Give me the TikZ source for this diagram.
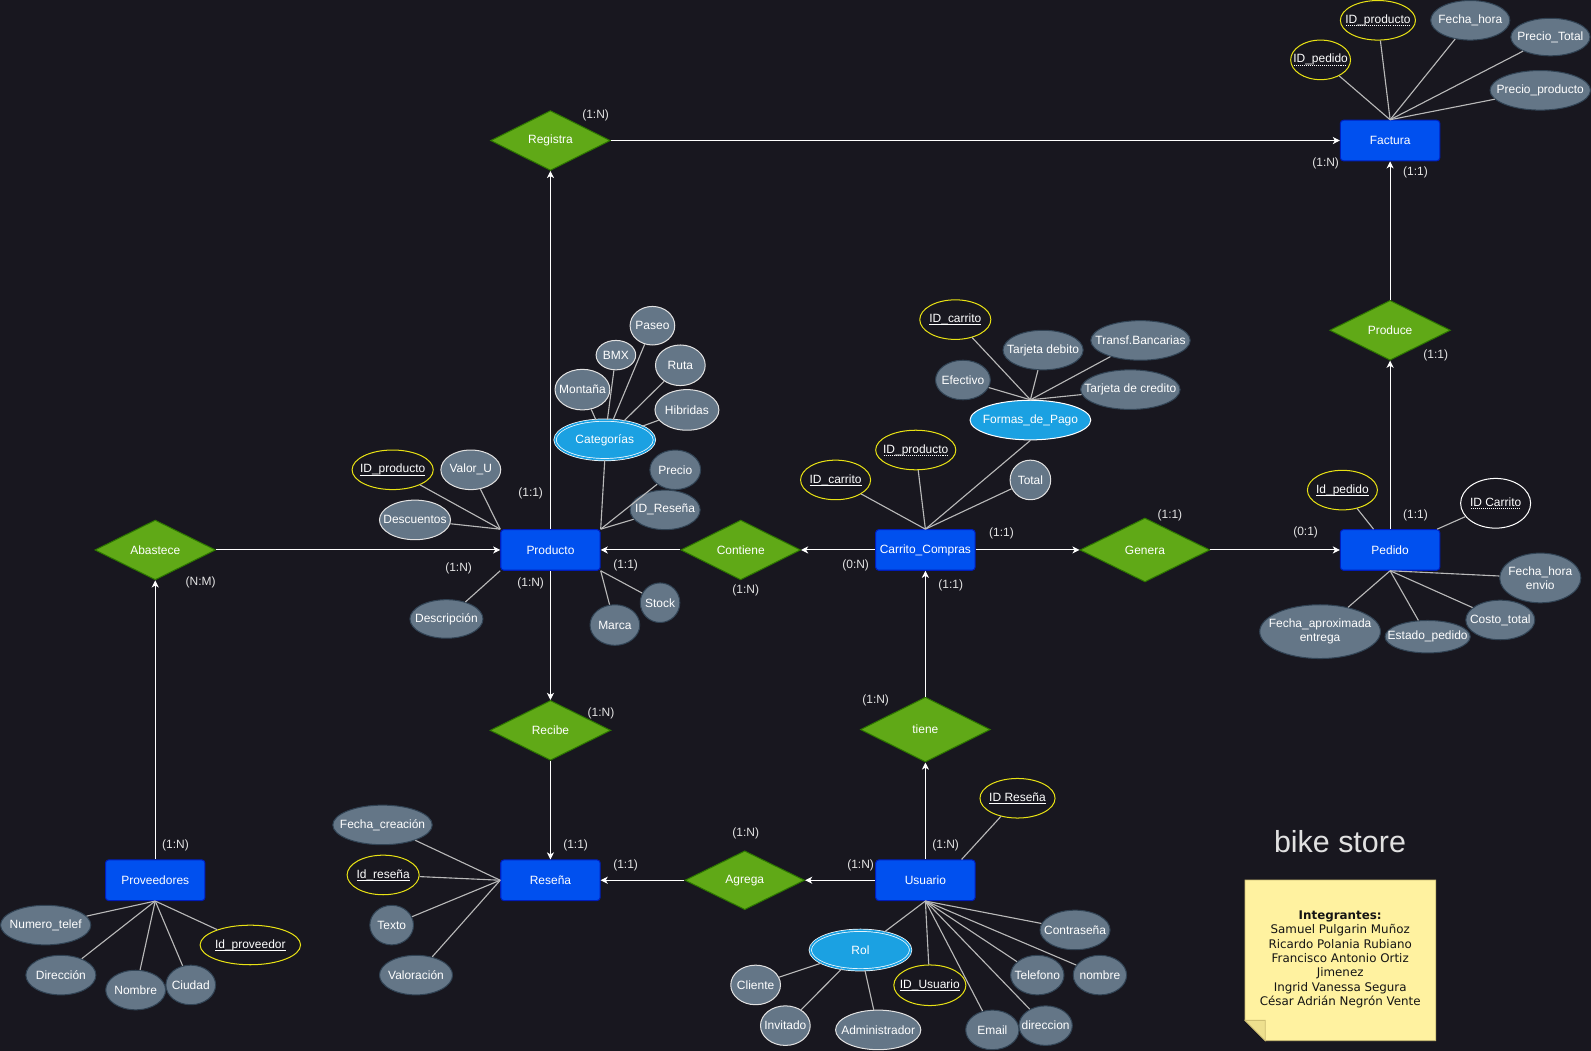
\documentclass[tikz,border=0pt]{standalone}
\usepackage{fontspec}
\setmainfont{Liberation Sans}
\newfontfamily\notefont{DejaVu Sans}
\usetikzlibrary{shapes.geometric,arrows.meta,calc}

\definecolor{bg}{RGB}{24,23,31}
\definecolor{entfill}{HTML}{0050EF}
\definecolor{entdraw}{HTML}{001DBC}
\definecolor{relfill}{HTML}{60A917}
\definecolor{reldraw}{HTML}{2D7600}
\definecolor{attfill}{HTML}{647687}
\definecolor{attdark}{HTML}{314354}
\definecolor{attlight}{RGB}{225,225,225}
\definecolor{multifill}{HTML}{1BA1E2}
\definecolor{keyyel}{RGB}{232,226,20}
\definecolor{lnk}{RGB}{185,185,185}
\definecolor{cardc}{RGB}{228,228,228}
\definecolor{titlec}{RGB}{225,225,225}
\definecolor{notefill}{RGB}{255,242,160}
\definecolor{notefold}{RGB}{238,224,142}
\definecolor{notedraw}{RGB}{205,190,115}
\definecolor{notetextc}{RGB}{20,20,20}

% solid and dotted underlines
\newcommand\keyul[1]{\setbox0\hbox{#1}\leavevmode\rlap{\vrule width\wd0 height -1.7pt depth 2.5pt}\box0}
\newcommand\fkul[1]{\setbox0\hbox{#1}\leavevmode\rlap{\hbox to\wd0{\leaders\hbox to 2pt{\hss\vrule width 1pt height -1.7pt depth 2.5pt\hss}\hfill}}\box0}

\newcommand\attrnode[7]{%
  \node[#6, minimum width=#4pt, minimum height=#5pt] (#1) at (#2,#3) {};
  \node[txt] (#1-t) at (#1.center) {#7};}

\begin{document}
\begin{tikzpicture}[x=1pt,y=-1pt,
  every node/.append style={font=\fontsize{11.8}{13.6}\selectfont},
  txt/.style={inner sep=0pt, text=white, align=center},
  ent/.style={rectangle, rounded corners=3pt, fill=entfill, draw=entdraw, line width=1pt,
    minimum width=98pt, minimum height=40pt, inner sep=0pt, text=white},
  rel/.style={diamond, fill=relfill, draw=reldraw, line width=1pt, inner sep=0pt, text=white},
  attW/.style={ellipse, fill=attfill, draw=attlight, line width=1pt, inner sep=0pt},
  attD/.style={ellipse, fill=attfill, draw=attdark, line width=1pt, inner sep=0pt},
  key/.style={ellipse, draw=keyyel, line width=1pt, inner sep=0pt},
  wkey/.style={ellipse, draw=white, line width=1pt, inner sep=0pt},
  multi/.style={ellipse, fill=multifill, draw=white, line width=1pt, inner sep=0pt},
  multid/.style={ellipse, fill=multifill, draw=white, double=multifill, double distance=1.6pt, line width=0.7pt, inner sep=0pt},
  arr/.style={draw=white, line width=1pt, -{Stealth[length=7pt,width=7pt,inset=2pt]}},
  lk/.style={draw=lnk, line width=1.1pt},
  card/.style={text=cardc, inner sep=0pt},
]
\useasboundingbox (0,0) rectangle (1568,1035.8);
\fill[bg] (0,0) rectangle (1568,1035.8);

% ---------- entities ----------
\node[ent] (fac) at (1370,138.5) {Factura};
\node[ent] (ped) at (1370,542) {Pedido};
\node[ent] (car) at (912,542) {Carrito\_Compras};
\node[ent] (pro) at (542.5,542) {Producto};
\node[ent] (prv) at (153,867.5) {Proveedores};
\node[ent] (res) at (542.5,867.5) {Reseña};
\node[ent] (usu) at (912,867.5) {Usuario};

% ---------- relationships ----------
\node[rel, minimum width=118pt, minimum height=59pt] (reg) at (542.5,138.5) {Registra};
\node[rel, minimum width=119pt, minimum height=59pt] (prd) at (1370,325.5) {Produce};
\node[rel, minimum width=128pt, minimum height=63pt] (gen) at (1128.4,542) {Genera};
\node[rel, minimum width=118pt, minimum height=59pt] (con) at (730,542) {Contiene};
\node[rel, minimum width=119pt, minimum height=59pt] (aba) at (153,542) {Abastece};
\node[rel, minimum width=119pt, minimum height=59pt] (rec) at (542.5,719.8) {Recibe};
\node[rel, minimum width=128pt, minimum height=64pt] (tie) at (912,719) {tiene};
\node[rel, minimum width=118pt, minimum height=58pt] (agr) at (734,867.5) {Agrega};

% ---------- Factura attributes ----------
\attrnode{facidped}{1301.5}{59}{59}{39}{key}{\fkul{ID\_pedido}}
\attrnode{facidprod}{1358}{20}{74}{39}{key}{\fkul{ID\_producto}}
\attrnode{facfh}{1449}{20}{78}{39}{attD}{Fecha\_hora}
\attrnode{facpt}{1528}{36.5}{78}{37}{attD}{Precio\_Total}
\attrnode{facpp}{1518}{89}{99}{39}{attD}{Precio\_producto}

% ---------- Pedido attributes ----------
\attrnode{pedid}{1323}{483}{69}{39}{key}{\keyul{Id\_pedido}}
\attrnode{pedcar}{1474}{496}{69}{49}{wkey}{\fkul{ID Carrito}}
\attrnode{pedfhe}{1518}{569.6}{80}{49}{attD}{Fecha\_hora\\envio}
\attrnode{pedct}{1478.6}{611}{68}{39}{attD}{Costo\_total}
\attrnode{pedep}{1407}{627.5}{84}{32}{attD}{Estado\_pedido}
\attrnode{pedfa}{1301}{622.5}{119}{53}{attD}{Fecha\_aproximada\\entrega}

% ---------- Carrito attributes ----------
\attrnode{carid}{823.5}{473}{69}{39}{key}{\keyul{ID\_carrito}}
\attrnode{carprod}{902.5}{443.5}{79}{39}{key}{\fkul{ID\_producto}}
\attrnode{cartot}{1015.5}{473}{40}{39}{attW}{Total}
\attrnode{fp}{1015.5}{414}{119}{39}{multi}{Formas\_de\_Pago}
\attrnode{fpid}{941.5}{315}{70}{39}{key}{\keyul{ID\_carrito}}
\attrnode{fptd}{1028}{345}{79}{39}{attD}{Tarjeta debito}
\attrnode{fptb}{1124}{335.5}{98}{39}{attD}{Transf.Bancarias}
\attrnode{fpef}{949}{374.5}{54}{39}{attD}{Efectivo}
\attrnode{fptc}{1114}{384}{98}{39}{attD}{Tarjeta de credito}

% ---------- Producto attributes ----------
\attrnode{proid}{387}{463}{80}{39}{key}{\keyul{ID\_producto}}
\attrnode{provu}{464}{463}{59}{39}{attW}{Valor\_U}
\attrnode{prode}{409}{512.4}{70}{39}{attW}{Descuentos}
\attrnode{prods}{440}{610}{72}{38}{attD}{Descripción}
\attrnode{prost}{650.5}{594}{39}{39}{attD}{Stock}
\attrnode{proma}{606}{616}{49}{40}{attD}{Marca}
\attrnode{propr}{665.5}{463}{50}{39}{attD}{Precio}
\attrnode{proir}{655.5}{502.5}{69}{39}{attD}{ID\_Reseña}
\attrnode{cat}{596}{433.5}{98}{39}{multid}{Categorías}
\attrnode{catpa}{643}{321}{44}{38}{attW}{Paseo}
\attrnode{catbmx}{607}{350}{39}{29}{attW}{BMX}
\attrnode{catru}{670.5}{360}{49}{40}{attW}{Ruta}
\attrnode{catmo}{574}{384}{54}{40}{attW}{Montaña}
\attrnode{cathi}{677}{404}{63}{40}{attW}{Hibridas}

% ---------- Proveedores attributes ----------
\attrnode{prvnt}{45}{911.7}{89}{39}{attD}{Numero\_telef}
\attrnode{prvdi}{60}{961}{69}{39}{attD}{Dirección}
\attrnode{prvno}{133.7}{975.7}{59}{39}{attD}{Nombre}
\attrnode{prvci}{188}{970.7}{49}{39}{attD}{Ciudad}
\attrnode{prvid}{246.7}{931.3}{99}{39}{key}{\keyul{Id\_proveedor}}

% ---------- Reseña attributes ----------
\attrnode{resfc}{377}{813}{98}{39}{attD}{Fecha\_creación}
\attrnode{resid}{377.6}{862.3}{71}{39}{key}{\keyul{Id\_reseña}}
\attrnode{restx}{386}{911.7}{43}{39}{attD}{Texto}
\attrnode{resva}{410}{961}{72}{39}{attD}{Valoración}

% ---------- Usuario attributes ----------
\attrnode{usuir}{1002.8}{786.7}{74}{39}{key}{\keyul{ID Reseña}}
\attrnode{rol}{848}{936.3}{99}{39}{multid}{Rol}
\attrnode{rolcl}{744.7}{970.7}{49}{39}{attW}{Cliente}
\attrnode{rolin}{774}{1010.8}{49}{39}{attW}{Invitado}
\attrnode{rolad}{865.5}{1015}{84}{39}{attW}{Administrador}
\attrnode{usuid}{916.4}{971}{71}{40}{key}{\keyul{ID\_Usuario}}
\attrnode{usuem}{978}{1015}{52.5}{39}{attD}{Email}
\attrnode{usudr}{1030.5}{1010.8}{52.6}{39}{attD}{direccion}
\attrnode{usute}{1022.3}{961}{52.6}{39}{attD}{Telefono}
\attrnode{usuno}{1084}{961}{52.6}{39}{attD}{nombre}
\attrnode{usuco}{1059.5}{916.5}{69}{39}{attD}{Contraseña}

% ---------- attribute links ----------
\foreach \a in {facidped,facidprod,facfh,facpt,facpp} \draw[lk] (\a) -- (fac.north);
\draw[lk] (pedid) -- (ped);
\draw[lk] (pedcar) -- (ped);
\foreach \a in {pedfhe,pedct,pedep,pedfa} \draw[lk] (\a) -- (ped.south);
\foreach \a in {carid,carprod,cartot} \draw[lk] (\a) -- (car.north);
\draw[lk] (fp.south) -- (car.north);
\foreach \a in {fpid,fptd,fptb,fpef,fptc} \draw[lk] (\a) -- (fp.north);
\foreach \a in {proid,provu,prode} \draw[lk] (\a) -- (pro.north west);
\draw[lk] (prods) -- (pro.south west);
\foreach \a in {propr,proir} \draw[lk] (\a) -- (pro.north east);
\draw[lk] (cat.south) -- (pro.north east);
\foreach \a in {prost,proma} \draw[lk] (\a) -- (pro.south east);
\foreach \a in {catpa,catbmx,catru,catmo,cathi} \draw[lk] (\a) -- (cat);
\foreach \a in {prvnt,prvdi,prvno,prvci,prvid} \draw[lk] (\a) -- (prv.south);
\foreach \a in {resfc,resid,restx,resva} \draw[lk] (\a) -- (res.west);
\draw[lk] (usuir) -- ($(usu.north)+(35.7,0)$);
\foreach \a in {rol,usuid,usuem,usudr,usute,usuno,usuco} \draw[lk] (\a) -- (usu.south);
\foreach \a in {rolcl,rolin,rolad} \draw[lk] (\a) -- (rol);

% ---------- relationship connectors ----------
\draw[arr] (reg) -- (fac);
\draw[arr] (pro) -- (reg);
\draw[arr] (prd) -- (fac);
\draw[arr] (ped) -- (prd);
\draw[arr] (gen) -- (ped);
\draw[arr] (car) -- (gen);
\draw[arr] (car) -- (con);
\draw[arr] (con) -- (pro);
\draw[arr] (aba) -- (pro);
\draw[arr] (prv) -- (aba);
\draw[arr] (pro) -- (rec);
\draw[arr] (rec) -- (res);
\draw[arr] (usu) -- (agr);
\draw[arr] (agr) -- (res);
\draw[arr] (usu) -- (tie);
\draw[arr] (tie) -- (car);

% ---------- cardinalities ----------
\node[card] (c1) at (587,113.3) {(1:N)};
\node[card] (c2) at (1306.5,161) {(1:N)};
\node[card] (c3) at (1395,170) {(1:1)};
\node[card] (c4) at (1415,350) {(1:1)};
\node[card] (c5) at (1395,507.5) {(1:1)};
\node[card] (c6) at (1286.7,525) {(0:1)};
\node[card] (c7) at (1153,507.5) {(1:1)};
\node[card] (c8) at (987,525.6) {(1:1)};
\node[card] (c9) at (843.3,556.8) {(0:N)};
\node[card] (c10) at (937,576.5) {(1:1)};
\node[card] (c11) at (616.6,556.8) {(1:1)};
\node[card] (c12) at (735,581.5) {(1:N)};
\node[card] (c13) at (523,486) {(1:1)};
\node[card] (c14) at (452,560) {(1:N)};
\node[card] (c15) at (523,575) {(1:N)};
\node[card] (c16) at (197.8,574.2) {(N:M)};
\node[card] (c17) at (173,832.8) {(1:N)};
\node[card] (c18) at (592.3,703) {(1:N)};
\node[card] (c19) at (567.3,832.8) {(1:1)};
\node[card] (c20) at (616.6,852.5) {(1:1)};
\node[card] (c21) at (735,821.2) {(1:N)};
\node[card] (c22) at (848.2,852.5) {(1:N)};
\node[card] (c23) at (932,832.8) {(1:N)};
\node[card] (c24) at (863,690) {(1:N)};

% ---------- title and note ----------
\node[text=titlec, inner sep=0pt, font=\fontsize{30}{34}\selectfont] (title) at (1320.6,829.5) {bike store};

\draw[notedraw, fill=notefill, line width=0.8pt] (1227,867.3) -- (1415,867.3) -- (1415,1025.6) -- (1247,1025.6) -- (1227,1005.6) -- cycle;
\draw[notedraw, fill=notefold, line width=0.8pt] (1227,1005.6) -- (1247,1005.6) -- (1247,1025.6) -- cycle;
\node[inner sep=0pt, align=center, text=notetextc, font=\notefont\fontsize{11.7}{14.1}\selectfont] (notetext) at (1320.8,945.5)
  {\textbf{Integrantes:}\\Samuel Pulgarin Muñoz\\Ricardo Polania Rubiano\\Francisco Antonio Ortiz\\Jimenez\\Ingrid Vanessa Segura\\César Adrián Negrón Vente};
\end{tikzpicture}
\end{document}
